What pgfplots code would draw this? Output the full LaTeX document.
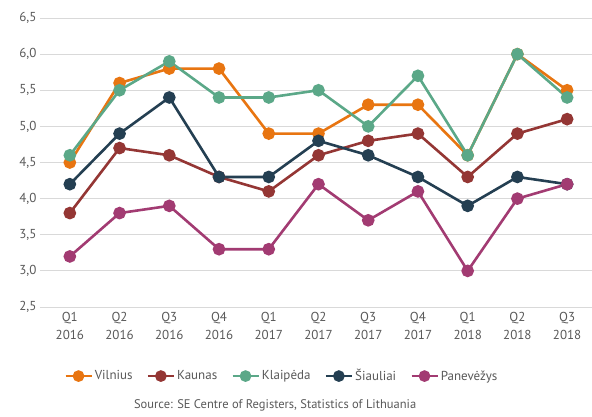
\documentclass[border=0pt]{standalone}
\usepackage{pgfplots}
\pgfplotsset{compat=1.18}
\usepackage{fontspec}
\setmainfont{PT Sans}
\definecolor{vil}{HTML}{E87511}
\definecolor{kau}{HTML}{943634}
\definecolor{kla}{HTML}{5BA888}
\definecolor{sia}{HTML}{243F52}
\definecolor{pan}{HTML}{A23B72}
\definecolor{txt}{HTML}{595959}
\definecolor{grd}{HTML}{D9D9D9}
\begin{document}
\begin{tikzpicture}[x=1pt,y=1pt]
\path[use as bounding box] (0,0) rectangle (592,416);
\begin{axis}[
  at={(40pt,109pt)}, anchor=south west,
  scale only axis, width=552pt, height=289pt,
  xmin=-0.6, xmax=10.5, ymin=2.5, ymax=6.5,
  ytick={2.5,3,...,6.5},
  xtick={0,...,10},
  xticklabels={{Q1\\2016},{Q2\\2016},{Q3\\2016},{Q4\\2016},{Q1\\2017},{Q2\\2017},{Q3\\2017},{Q4\\2017},{Q1\\2018},{Q2\\2018},{Q3\\2018}},
  xticklabel style={align=center, font=\fontsize{13}{18}\selectfont, text=txt, yshift=-2pt},
  yticklabel style={font=\fontsize{13}{15}\selectfont, text=txt},
  /pgf/number format/assume math mode=true,
  /pgf/number format/.cd, use comma, fixed, fixed zerofill, precision=1, /pgfplots/.cd,
  axis line style={draw=none},
  major tick length=0pt,
  ymajorgrids, grid style={grd, line width=1pt},
  every axis plot/.append style={line width=2.6pt, mark=*, mark size=5pt},
  legend columns=5,
  legend style={draw=none, at={(0.438,-0.239)}, anchor=center, font=\fontsize{13}{15}\selectfont, text=txt, /tikz/every even column/.append style={column sep=12pt}},
  legend image code/.code={\draw[#1, mark=none] (0pt,0pt) -- (26pt,0pt); \draw[#1, mark size=4.5pt] plot coordinates {(13pt,0pt)};},
  clip=false,
]
\addplot[vil, mark options={fill=vil}] coordinates {(0,4.5)(1,5.6)(2,5.8)(3,5.8)(4,4.9)(5,4.9)(6,5.3)(7,5.3)(8,4.6)(9,6.0)(10,5.5)};
\addlegendentry{Vilnius}
\addplot[kau, mark options={fill=kau}] coordinates {(0,3.8)(1,4.7)(2,4.6)(3,4.3)(4,4.1)(5,4.6)(6,4.8)(7,4.9)(8,4.3)(9,4.9)(10,5.1)};
\addlegendentry{Kaunas}
\addplot[kla, mark options={fill=kla}] coordinates {(0,4.6)(1,5.5)(2,5.9)(3,5.4)(4,5.4)(5,5.5)(6,5.0)(7,5.7)(8,4.6)(9,6.0)(10,5.4)};
\addlegendentry{Klaipėda}
\addplot[sia, mark options={fill=sia}] coordinates {(0,4.2)(1,4.9)(2,5.4)(3,4.3)(4,4.3)(5,4.8)(6,4.6)(7,4.3)(8,3.9)(9,4.3)(10,4.2)};
\addlegendentry{Šiauliai}
\addplot[pan, mark options={fill=pan}] coordinates {(0,3.2)(1,3.8)(2,3.9)(3,3.3)(4,3.3)(5,4.2)(6,3.7)(7,4.1)(8,3.0)(9,4.0)(10,4.2)};
\addlegendentry{Panevėžys}
\node[text=txt, font=\fontsize{12.5}{14}\selectfont, anchor=center] at (rel axis cs:0.426,-0.342) {Source: SE Centre of Registers, Statistics of Lithuania};
\end{axis}
\end{tikzpicture}
\end{document}
